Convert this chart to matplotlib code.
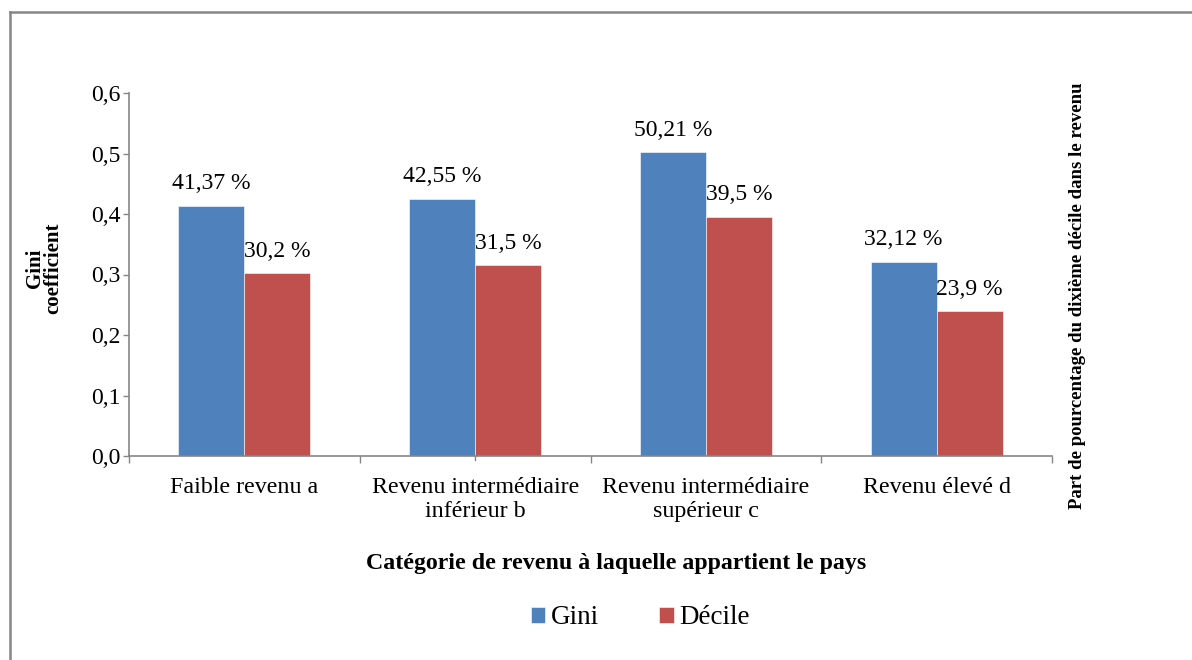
import numpy as np
import matplotlib.pyplot as plt
from matplotlib.lines import Line2D
from matplotlib.ticker import FuncFormatter

plt.rcParams['font.family'] = ['Liberation Serif', 'DejaVu Serif']

categories = ["Faible revenu a", "Revenu intermédiaire\ninférieur b",
              "Revenu intermédiaire\nsupérieur c", "Revenu élevé d"]
gini = [0.4137, 0.4255, 0.5021, 0.3212]
decile = [0.302, 0.315, 0.395, 0.239]
gini_labels = ["41,37 %", "42,55 %", "50,21 %", "32,12 %"]
decile_labels = ["30,2 %", "31,5 %", "39,5 %", "23,9 %"]

BLUE = "#4F81BD"
RED = "#C0504D"
GRAY = "#868686"

fig = plt.figure(figsize=(11.92, 6.6), dpi=100)
ax = fig.add_axes([129/1192, 1 - 456/660, (1052 - 129)/1192, (456 - 93)/660])

x = np.arange(len(categories))
w = 0.286
b1 = ax.bar(x - w/2, gini, w, color=BLUE, edgecolor="white", linewidth=0.4, label="Gini")
b2 = ax.bar(x + w/2, decile, w, color=RED, edgecolor="white", linewidth=0.4, label="Décile")

for xi, v, t in zip(x - w/2, gini, gini_labels):
    ax.annotate(t, (xi, v), xytext=(0, 12), textcoords="offset points",
                ha="center", va="baseline", fontsize=17)
for xi, v, t in zip(x + w/2, decile, decile_labels):
    ax.annotate(t, (xi, v), xytext=(0, 12), textcoords="offset points",
                ha="center", va="baseline", fontsize=17)

ax.set_xlim(-0.5, 3.5)
ax.set_ylim(0, 0.6)
ax.set_yticks(np.arange(0, 0.61, 0.1))
ax.yaxis.set_major_formatter(FuncFormatter(lambda v, p: ("%.1f" % v).replace(".", ",")))
ax.tick_params(axis="y", labelsize=17, length=4, width=1, color=GRAY, pad=2)

ax.set_xticks(x)
ax.set_xticklabels(categories, fontsize=17.3)
ax.set_xticks(np.arange(-0.5, 4, 1), minor=True)
ax.tick_params(axis="x", which="major", length=0, pad=15)
ax.tick_params(axis="x", which="minor", length=5, width=1, color=GRAY)

for s in ["top", "right"]:
    ax.spines[s].set_visible(False)
for s in ["left", "bottom"]:
    ax.spines[s].set_color(GRAY)
    ax.spines[s].set_linewidth(1.2)
ax.plot([1, 1], [0, -0.012], transform=ax.get_xaxis_transform(), color=GRAY, lw=1, clip_on=False)

fig.text(44/1192, 1 - 268/660, "Gini\ncoefficient", rotation=90, ha="center", va="center",
         fontsize=15, fontweight="bold", linespacing=0.85)
fig.text(1077/1192, 1 - 296/660, "Part de pourcentage du dixième décile dans le revenu",
         rotation=90, ha="center", va="center", fontsize=13.5, fontweight="bold")
fig.text(616/1192, 1 - 563/660, "Catégorie de revenu à laquelle appartient le pays",
         ha="center", va="center", fontsize=17.2, fontweight="bold")

fig.legend(handles=[b1, b2], loc="center", bbox_to_anchor=(640/1192, 1 - 618/660),
           ncol=2, frameon=False, fontsize=19.5, handlelength=0.55, handleheight=0.55,
           handletextpad=0.2, columnspacing=2.2)

# outer frame (only top and left edges visible in the source)
fig.add_artist(Line2D([10/1192, 10/1192], [0, 1 - 12/660], transform=fig.transFigure, color=GRAY, lw=1.8))
fig.add_artist(Line2D([10/1192, 1], [1 - 12/660, 1 - 12/660], transform=fig.transFigure, color=GRAY, lw=1.8))

fig.savefig("out.png", dpi=100)
